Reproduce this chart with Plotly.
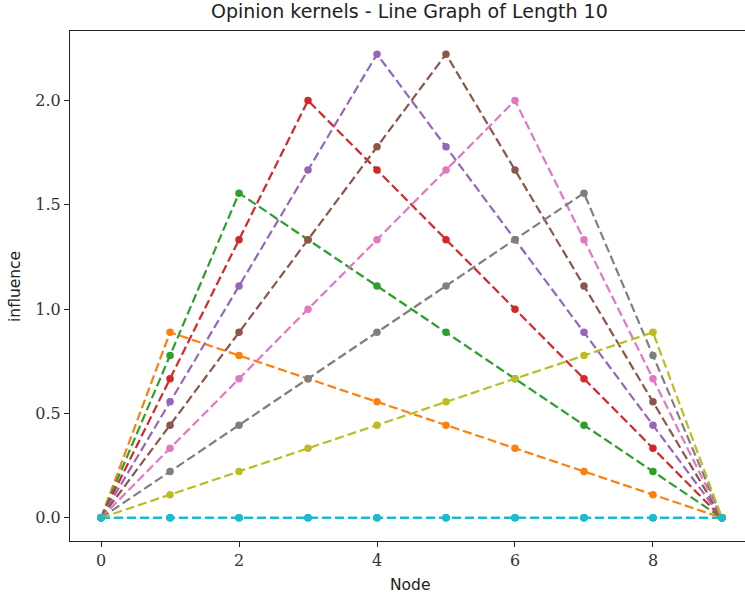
import plotly.graph_objects as go

nodes = [0, 1, 2, 3, 4, 5, 6, 7, 8, 9]

kernel_0 = [0, 0, 0, 0, 0, 0, 0, 0, 0, 0]
kernel_1 = [0, 0.889, 0.778, 0.667, 0.556, 0.444, 0.333, 0.222, 0.111, 0]
kernel_2 = [0, 0.778, 1.556, 1.333, 1.111, 0.889, 0.667, 0.444, 0.222, 0]
kernel_3 = [0, 0.667, 1.333, 2.0, 1.667, 1.333, 1.0, 0.667, 0.333, 0]
kernel_4 = [0, 0.556, 1.111, 1.667, 2.222, 1.778, 1.333, 0.889, 0.444, 0]
kernel_5 = [0, 0.444, 0.889, 1.333, 1.778, 2.222, 1.667, 1.111, 0.556, 0]
kernel_6 = [0, 0.333, 0.667, 1.0, 1.333, 1.667, 2.0, 1.333, 0.667, 0]
kernel_7 = [0, 0.222, 0.444, 0.667, 0.889, 1.111, 1.333, 1.556, 0.778, 0]
kernel_8 = [0, 0.111, 0.222, 0.333, 0.444, 0.556, 0.667, 0.778, 0.889, 0]
kernel_9 = [0, 0, 0, 0, 0, 0, 0, 0, 0, 0]

kernels = [kernel_0, kernel_1, kernel_2, kernel_3, kernel_4,
           kernel_5, kernel_6, kernel_7, kernel_8, kernel_9]

colors = ["#1f77b4", "#ff7f0e", "#2ca02c", "#d62728", "#9467bd",
          "#8c564b", "#e377c2", "#7f7f7f", "#bcbd22", "#17becf"]

x_ticks = [0, 2, 4, 6, 8]
y_ticks = [0.0, 0.5, 1.0, 1.5, 2.0]
y_tick_text = ["0.0", "0.5", "1.0", "1.5", "2.0"]

fig = go.Figure()
for k, c in zip(kernels, colors):
    fig.add_trace(go.Scatter(
        x=nodes, y=k, mode="lines+markers",
        line=dict(color=c, width=2.2, dash="9px,4px"),
        marker=dict(color=c, size=7.5),
        showlegend=False, cliponaxis=False,
    ))

W, H = 745, 599
ml, mr, mt, mb = 70, 0, 31, 58
ph = H - mt - mb
pw = W - ml - mr

fig.update_layout(
    width=W, height=H,
    margin=dict(l=ml, r=mr, t=mt, b=mb),
    paper_bgcolor="white", plot_bgcolor="white",
    showlegend=False,
    annotations=[
        dict(text="Opinion kernels - Line Graph of Length 10", x=(410 - ml) / pw, y=1 + 20 / ph,
             xref="paper", yref="paper", showarrow=False, xanchor="center", yanchor="middle",
             font=dict(family="DejaVu Sans", size=19, color="#222")),
        dict(text="Node", x=(410 - ml) / pw, y=-44 / ph, xref="paper", yref="paper",
             showarrow=False, xanchor="center", yanchor="middle",
             font=dict(family="DejaVu Sans", size=15.5, color="#222")),
        dict(text="influence", x=-55 / pw, y=0.5, xref="paper", yref="paper",
             showarrow=False, textangle=-90, xanchor="center", yanchor="middle",
             font=dict(family="DejaVu Sans", size=15.5, color="#222")),
    ],
)

fig.update_xaxes(
    range=[-0.45, 9.334], tickvals=x_ticks, ticks="outside", ticklen=5, tickwidth=1.2,
    tickcolor="#222", showline=True, mirror=True, linecolor="#222", linewidth=1.2,
    showgrid=False, zeroline=False,
    tickfont=dict(family="DejaVu Serif", size=16, color="#333"),
)
fig.update_yaxes(
    range=[-0.111, 2.333], tickvals=y_ticks, ticktext=y_tick_text, ticks="outside",
    ticklen=5, tickwidth=1.2, tickcolor="#222", showline=True, linecolor="#222",
    linewidth=1.2, showgrid=False, zeroline=False,
    tickfont=dict(family="DejaVu Serif", size=16, color="#333"),
)

fig.write_html("out.html", config={"displayModeBar": False},
               post_script="document.body.style.margin='0';document.body.style.overflow='hidden';")
